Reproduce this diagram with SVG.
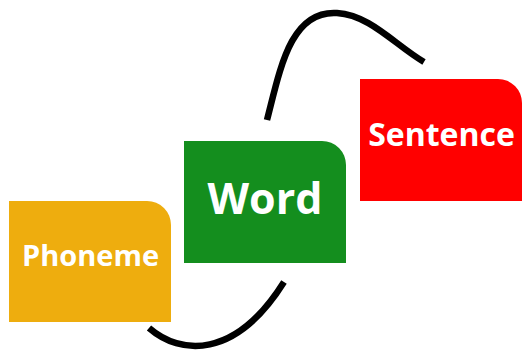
<svg xmlns="http://www.w3.org/2000/svg" width="522" height="350" viewBox="0 0 522 350">
<style>
.lbl{font-family:"Open Sans","Noto Sans","DejaVu Sans",sans-serif;font-weight:bold;fill:#fff;text-anchor:middle}
.con{fill:none;stroke:#000;stroke-width:6.5}
</style>
<rect width="522" height="350" fill="#fff"/>
<g id="connectors">
<path class="con" d="M149,328 C180,355 235,360 284,282"/>
<path class="con" d="M267,120 C280,70 290,10 337,13 C370,15 395,45 424,62"/>
</g>
<g id="phoneme">
<path d="M9,201 H147 A24,24 0 0 1 171,225 V322 H9 Z" fill="#EEAD0E"/>
<text class="lbl" x="90.5" y="266" font-size="29">Phoneme</text>
</g>
<g id="word">
<path d="M184,141 H322 A24,24 0 0 1 346,165 V263 H184 Z" fill="#148E1E"/>
<text class="lbl" x="265" y="214" font-size="43">Word</text>
</g>
<g id="sentence">
<path d="M360,79 H498 A24,24 0 0 1 522,103 V201 H360 Z" fill="#FF0000"/>
<text class="lbl" x="441.5" y="146" font-size="32">Sentence</text>
</g>
</svg>
